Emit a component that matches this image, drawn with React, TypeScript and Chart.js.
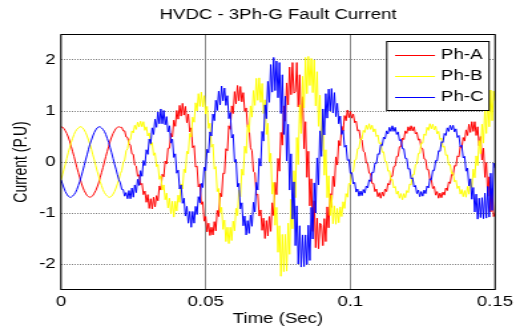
import { useEffect, useRef } from 'react';
import { Chart, registerables } from 'chart.js';

Chart.register(...registerables);

// ---- data ----
const SAMPLE_STEP_S = 0.0005; // one sample every 0.5 ms
const X_MIN = 0;
const X_MAX = 0.15;
const Y_MIN = -2.5;
const Y_MAX = 2.5;
const xTickValues = [0, 0.05, 0.1, 0.15];
const xTickLabels = ['0', '0.05', '0.1', '0.15'];
const yTickValues = [-2, -1, 0, 1, 2];
const yTickLabels = ['-2', '-1', '0', '1', '2'];
const seriesLabels = ['Ph-A', 'Ph-B', 'Ph-C'];
const seriesColors = ['#ff0000', '#ffff00', '#0000ff'];

const phA = [
  0.69, 0.68, 0.66, 0.61, 0.56, 0.49, 0.41, 0.31, 0.21, 0.11, 0, -0.11, -0.21, -0.31, -0.41, -0.49, -0.56, -0.61, -0.66, -0.68, -0.69,
  -0.68, -0.66, -0.61, -0.56, -0.49, -0.41, -0.31, -0.21, -0.11, 0, 0.11, 0.21, 0.31, 0.41, 0.49, 0.56, 0.61, 0.66, 0.68, 0.69,
  0.68, 0.68, 0.61, 0.61, 0.49, 0.48, 0.36, 0.33, 0.16, 0.15, -0.06, -0.08, -0.28, -0.25, -0.45, -0.42, -0.64, -0.57, -0.79, -0.64, -0.91, -0.72, -0.92,
  -0.69, -0.88, -0.66, -0.76, -0.47, -0.55, -0.24, -0.29, 0.02, -0.04, 0.27, 0.27, 0.56, 0.49, 0.82, 0.70, 1.01, 0.84, 1.11, 0.90, 1.15,
  0.92, 1.09, 0.77, 0.94, 0.59, 0.67, 0.28, 0.32, -0.10, -0.08, -0.49, -0.43, -0.83, -0.78, -1.16, -1.07, -1.37, -1.20, -1.44, -1.28,
  -1.43, -1.17, -1.35, -0.95, -1.07, -0.61, -0.68, -0.22, -0.23, 0.26, 0.22, 0.71, 0.64, 1.10, 0.95, 1.38, 1.14, 1.50, 1.20,
  1.48, 1.18, 1.36, 0.99, 1.06, 0.68, 0.66, 0.28, 0.22, -0.19, -0.21, -0.65, -0.63, -1.06, -0.94, -1.34, -1.10, -1.50, -1.15,
  -1.45, -1.07, -1.36, -0.80, -1.05, -0.40, -0.64, 0.07, -0.18, 0.58, 0.33, 1.10, 0.80, 1.55, 1.12, 1.86, 1.32, 1.95, 1.35,
  1.38, 1.95, 1.08, 1.71, 0.76, 1.28, 0.26, 0.79, -0.30, 0.21, -0.86, -0.33, -1.36, -0.76, -1.68, -1.10, -1.70, -1.20,
  -1.24, -1.64, -1.11, -1.56, -0.88, -1.29, -0.62, -0.89, -0.28, -0.48, 0.10, -0.06, 0.42, 0.32, 0.70, 0.61, 0.91, 0.81, 1.02, 0.87,
  0.99, 0.86, 0.94, 0.77, 0.80, 0.61, 0.63, 0.45, 0.43, 0.21, 0.19, -0.02, -0.03, -0.22, -0.23, -0.42, -0.42, -0.58, -0.53, -0.68, -0.60, -0.71,
  -0.59, -0.67, -0.53, -0.58, -0.42, -0.45, -0.28, -0.28, -0.09, -0.08, 0.11, 0.11, 0.30, 0.30, 0.47, 0.44, 0.61, 0.56, 0.69, 0.61, 0.71,
  0.61, 0.69, 0.55, 0.58, 0.43, 0.45, 0.27, 0.26, 0.06, 0.05, -0.15, -0.15, -0.35, -0.35, -0.52, -0.48, -0.65, -0.58, -0.71, -0.61,
  -0.70, -0.59, -0.65, -0.51, -0.56, -0.39, -0.42, -0.24, -0.26, -0.07, -0.08, 0.12, 0.10, 0.31, 0.27, 0.48, 0.41, 0.63, 0.52, 0.74, 0.58, 0.79, 0.60,
  0.79, 0.52, 0.69, 0.32, 0.50, 0.04, 0.27, -0.30, -0.01, -0.67, -0.29, -0.98, -0.52, -1.07, -0.99,
];

const phB = [
  -0.35, -0.25, -0.14, -0.04, 0.07, 0.18, 0.28, 0.38, 0.46, 0.54, 0.60, 0.64, 0.67, 0.69, 0.69, 0.67, 0.63, 0.58, 0.51, 0.43, 0.35,
  0.25, 0.14, 0.04, -0.07, -0.18, -0.28, -0.38, -0.46, -0.54, -0.60, -0.64, -0.67, -0.69, -0.69, -0.67, -0.63, -0.58, -0.51, -0.43, -0.35,
  -0.23, -0.17, -0.01, 0.04, 0.22, 0.26, 0.43, 0.44, 0.61, 0.57, 0.72, 0.64, 0.78, 0.69,
  0.80, 0.69, 0.79, 0.62, 0.69, 0.51, 0.57, 0.33, 0.38, 0.13, 0.18, -0.09, -0.05, -0.34, -0.27, -0.55, -0.45, -0.74, -0.61, -0.90, -0.71, -1.02, -0.77, -1.08,
  -0.77, -0.96, -0.65, -0.79, -0.43, -0.53, -0.14, -0.21, 0.21, 0.16, 0.56, 0.49, 0.88, 0.78, 1.16, 1.00, 1.34, 1.09, 1.37,
  1.08, 1.30, 0.94, 1.09, 0.66, 0.76, 0.29, 0.35, -0.14, -0.09, -0.58, -0.52, -0.99, -0.89, -1.32, -1.14, -1.56, -1.28, -1.60,
  -1.28, -1.54, -1.16, -1.35, -0.91, -1.05, -0.55, -0.68, -0.14, -0.26, 0.31, 0.17, 0.73, 0.58, 1.10, 0.88, 1.40, 1.11, 1.64, 1.21, 1.65,
  1.17, 1.54, 0.95, 1.22, 0.54, 0.76, 0.00, 0.17, -0.63, -0.40, -1.24, -0.89, -1.77, -1.25, -2.24, -1.42, -2.15,
  -1.42, -2.14, -1.20, -1.81, -0.73, -1.31, -0.17, -0.70, 0.48, -0.05, 1.12, 0.56, 1.68, 1.06, 2.05, 1.34, 2.07, 1.50,
  2.03, 1.36, 2.00, 1.10, 1.77, 0.70, 1.31, 0.21, 0.80, -0.26, 0.24, -0.70, -0.27, -1.05, -0.65, -1.21, -0.86, -1.22,
  -0.91, -1.19, -0.88, -1.07, -0.78, -0.91, -0.62, -0.69, -0.42, -0.44, -0.20, -0.19, 0.04, 0.05, 0.26, 0.27, 0.46, 0.45, 0.62, 0.58, 0.72, 0.64, 0.75,
  0.64, 0.72, 0.59, 0.65, 0.50, 0.53, 0.36, 0.38, 0.19, 0.20, 0.01, 0.01, -0.18, -0.17, -0.36, -0.34, -0.51, -0.48, -0.63, -0.57, -0.71, -0.62, -0.74,
  -0.62, -0.70, -0.56, -0.60, -0.43, -0.45, -0.25, -0.25, -0.05, -0.04, 0.17, 0.17, 0.37, 0.37, 0.55, 0.52, 0.68, 0.62, 0.75, 0.65,
  0.74, 0.63, 0.70, 0.55, 0.60, 0.44, 0.47, 0.29, 0.31, 0.13, 0.14, -0.06, -0.05, -0.23, -0.21, -0.39, -0.36, -0.52, -0.47, -0.63, -0.54, -0.68, -0.56,
  -0.69, -0.48, -0.63, -0.34, -0.50, -0.14, -0.31, 0.12, -0.07, 0.42, 0.16, 0.74, 0.37, 1.05, 0.56, 1.26, 0.69, 1.41, 0.81, 1.39, 1.20,
];

const phC = [
  -0.35, -0.43, -0.51, -0.58, -0.63, -0.67, -0.69, -0.69, -0.67, -0.64, -0.60, -0.54, -0.46, -0.38, -0.28, -0.18, -0.07, 0.04, 0.14, 0.25, 0.35,
  0.43, 0.51, 0.58, 0.63, 0.67, 0.69, 0.69, 0.67, 0.64, 0.60, 0.54, 0.46, 0.38, 0.28, 0.18, 0.07, -0.04, -0.14, -0.25, -0.35,
  -0.41, -0.54, -0.54, -0.67, -0.60, -0.72, -0.56, -0.72, -0.51,
  -0.69, -0.45, -0.60, -0.34, -0.46, -0.17, -0.28, 0.03, -0.07, 0.24, 0.15, 0.45, 0.36, 0.67, 0.54, 0.84, 0.68, 0.98, 0.75, 1.04, 0.75,
  1.01, 0.73, 0.89, 0.59, 0.71, 0.37, 0.45, 0.09, 0.16, -0.22, -0.16, -0.53, -0.45, -0.81, -0.71, -1.06, -0.87, -1.20, -0.97, -1.28,
  -0.97, -1.20, -0.87, -1.03, -0.68, -0.80, -0.42, -0.50, -0.10, -0.17, 0.25, 0.18, 0.59, 0.51, 0.94, 0.81, 1.21, 1.01, 1.39, 1.12, 1.49, 1.20,
  1.45, 1.11, 1.30, 0.85, 0.97, 0.47, 0.54, 0.00, 0.05, -0.49, -0.42, -0.92, -0.80, -1.25, -1.06, -1.43, -1.15,
  -1.40, -1.04, -1.26, -0.79, -0.98, -0.40, -0.55, 0.07, -0.08, 0.60, 0.41, 1.12, 0.85, 1.58, 1.17, 1.91, 1.37, 2.05, 1.40,
  1.98, 1.26, 1.95, 0.95, 1.71, 0.54, 1.29, 0.02, 0.74, -0.55, 0.16, -1.12, -0.39, -1.64, -0.86, -2.00, -1.25, -2.06, -1.43, -2.05,
  -1.43, -2.01, -1.24, -1.93, -0.89, -1.51, -0.41, -1.00, 0.08, -0.45, 0.61, 0.11, 1.04, 0.53, 1.34, 0.86, 1.43, 1.00,
  1.44, 0.96, 1.36, 0.89, 1.15, 0.75, 0.90, 0.54, 0.62, 0.29, 0.33, 0.03, 0.05, -0.22, -0.21, -0.43, -0.40, -0.59, -0.53, -0.67, -0.57,
  -0.66, -0.54, -0.61, -0.47, -0.51, -0.35, -0.38, -0.20, -0.21, -0.02, -0.03, 0.16, 0.15, 0.34, 0.32, 0.49, 0.45, 0.61, 0.55, 0.68, 0.60, 0.71,
  0.60, 0.68, 0.54, 0.59, 0.42, 0.44, 0.26, 0.26, 0.07, 0.07, -0.14, -0.13, -0.33, -0.31, -0.49, -0.46, -0.62, -0.55, -0.68, -0.58,
  -0.67, -0.55, -0.62, -0.47, -0.51, -0.33, -0.35, -0.16, -0.17, 0.03, 0.02, 0.22, 0.21, 0.40, 0.38, 0.56, 0.52, 0.67, 0.60, 0.72, 0.63,
  0.72, 0.59, 0.65, 0.48, 0.52, 0.30, 0.33, 0.08, 0.11, -0.18, -0.12, -0.47, -0.33, -0.73, -0.50, -0.98, -0.63, -1.12, -0.71, -1.09, -0.70,
  -1.11, -0.61, -1.10, -0.48, -1.08, -0.22, -0.95, -0.02, -0.12,
];

// ---- layout (canvas units; the canvas is stretched horizontally like the reference) ----
const CANVAS_W = 397;
const CANVAS_H = 331;
const FONT = '"Liberation Sans", Arial, Helvetica, sans-serif';

const framePlugin = {
  id: 'matlabFrame',
  afterDraw(chart: any) {
    const { ctx, chartArea } = chart;
    const { left, top, right, bottom } = chartArea;
    ctx.save();
    ctx.strokeStyle = '#000';
    ctx.lineWidth = 1;
    ctx.strokeRect(left, top, right - left, bottom - top);

    // legend box (north-east, inside the axes)
    const bw = 76.9;
    const bh = 69;
    const bx = right - 4.5 - bw;
    const by = Math.round(top + 6.5) + 0.5;
    ctx.fillStyle = '#fff';
    ctx.fillRect(bx, by, bw, bh);
    ctx.strokeStyle = '#000';
    ctx.strokeRect(bx, by, bw, bh);
    ctx.font = `14px ${FONT}`;
    ctx.textBaseline = 'middle';
    ctx.textAlign = 'left';
    chart.data.datasets.forEach((ds: any, i: number) => {
      const y = Math.round(by + 13.3 + i * 21.2) + 0.5;
      ctx.strokeStyle = ds.borderColor;
      ctx.lineWidth = 1;
      ctx.beginPath();
      ctx.moveTo(bx + 6.2, y);
      ctx.lineTo(bx + 36.3, y);
      ctx.stroke();
      ctx.fillStyle = '#000';
      ctx.fillText(ds.label, bx + 40.8, y);
    });
    ctx.restore();
  },
};

export default function App() {
  const ref = useRef<HTMLCanvasElement>(null);

  useEffect(() => {
    document.body.style.margin = '0';
    const canvas = ref.current;
    if (!canvas) return;
    Chart.defaults.font.family = FONT;

    const toPoints = (vals: number[]) => vals.map((y, i) => ({ x: i * SAMPLE_STEP_S, y }));
    const all = [phA, phB, phC];

    const chart = new Chart(canvas, {
      type: 'line',
      data: {
        datasets: all.map((vals, i) => ({
          label: seriesLabels[i],
          data: toPoints(vals),
          borderColor: seriesColors[i],
          backgroundColor: seriesColors[i],
          borderWidth: 1,
          borderJoinStyle: 'round',
          pointRadius: 0,
          pointHoverRadius: 0,
          tension: 0,
          fill: false,
          order: 3 - i,
        })),
      },
      options: {
        responsive: false,
        animation: false,
        devicePixelRatio: 1,
        events: [],
        layout: { padding: { left: 0, right: 24.8, top: 0, bottom: 0 } },
        plugins: {
          legend: { display: false },
          tooltip: { enabled: false },
          title: {
            display: true,
            text: 'HVDC - 3Ph-G Fault Current',
            fullSize: false,
            color: '#000',
            font: { size: 14, weight: 'normal', family: FONT },
            padding: { top: 6.8, bottom: 10.9 },
          },
        },
        scales: {
          x: {
            type: 'linear',
            min: X_MIN,
            max: X_MAX,
            afterBuildTicks: (s: any) => {
              s.ticks = xTickValues.map((v) => ({ value: v }));
            },
            afterFit: (s: any) => {
              s.height = 41.5;
            },
            ticks: {
              callback: (_v: any, i: number) => xTickLabels[i],
              padding: 4,
              color: '#000',
              font: { size: 14, family: FONT },
              maxRotation: 0,
              autoSkip: false,
            },
            grid: { color: '#8c8c8c', lineWidth: 1, drawTicks: false },
            border: { display: false },
            title: {
              display: true,
              text: 'Time (Sec)',
              color: '#000',
              font: { size: 14, family: FONT },
              padding: { top: 0, bottom: 3.7 },
            },
          },
          y: {
            type: 'linear',
            min: Y_MIN,
            max: Y_MAX,
            afterBuildTicks: (s: any) => {
              s.ticks = yTickValues.map((v) => ({ value: v }));
            },
            afterFit: (s: any) => {
              s.width = 45.86;
            },
            ticks: {
              callback: (_v: any, i: number) => yTickLabels[i],
              padding: 4,
              color: '#000',
              font: { size: 14, family: FONT },
              autoSkip: false,
            },
            grid: { color: '#808080', lineWidth: 1, drawTicks: false },
            border: { display: false, dash: [1, 1] },
            title: {
              display: true,
              text: 'Current (P.U)',
              color: '#000',
              font: { size: 14, family: FONT },
              padding: { top: 7.4, bottom: 0 },
            },
          },
        },
      } as any,
      plugins: [framePlugin],
    });

    return () => chart.destroy();
  }, []);

  return (
    <div style={{ width: 528, height: 331 }}>
      <canvas
        ref={ref}
        width={CANVAS_W}
        height={CANVAS_H}
        style={{ width: '528px', height: '331px', display: 'block' }}
      />
    </div>
  );
}
